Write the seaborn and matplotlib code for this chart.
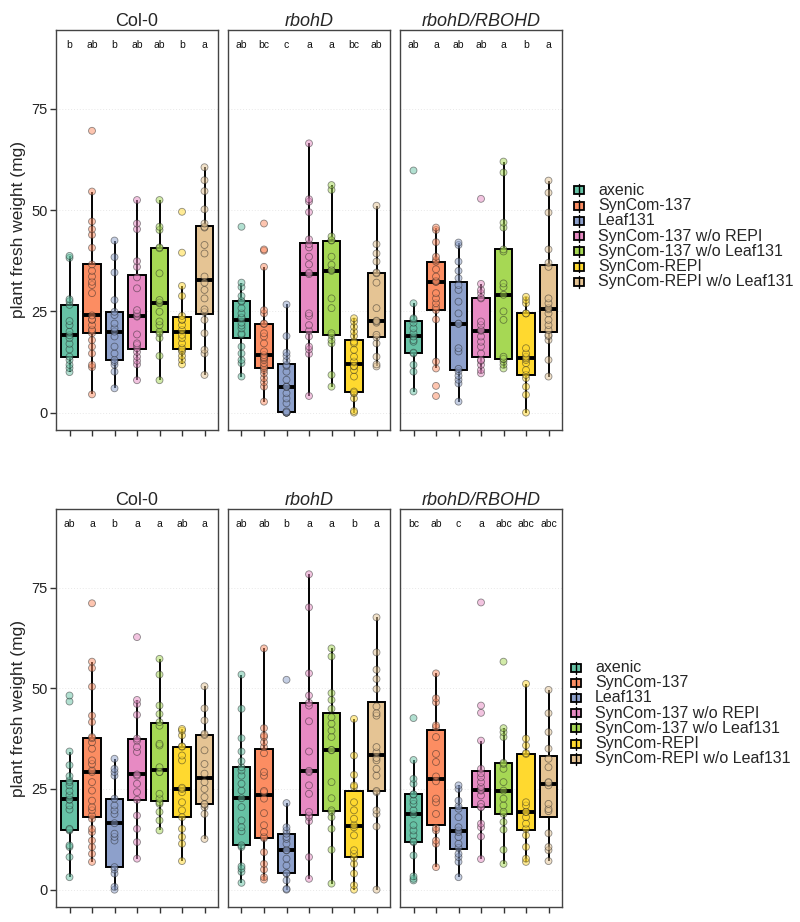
import pandas as pd
import seaborn as sns
import matplotlib.pyplot as plt
from matplotlib.patches import Rectangle
from matplotlib.lines import Line2D

groups = ["axenic", "SynCom-137", "Leaf131", "SynCom-137 w/o REPI",
          "SynCom-137 w/o Leaf131", "SynCom-REPI", "SynCom-REPI w/o Leaf131"]
genotypes = ["Col-0", "rbohD", "rbohD/RBOHD"]

# experiment 1 (top row), one list per group
top_col0 = [
    [10, 11, 11.8, 13, 13.8, 15.6, 17, 18.4, 19.1, 20, 21.6, 22.6, 26.6, 27.5, 28, 38.2, 38.7],
    [4.5, 11.2, 11.8, 14.6, 16.3, 17.9, 19.6, 20.2, 20.5, 21.6, 22.9, 23, 24, 29.5, 31.5, 32.3,
     33.6, 35, 36.6, 40.7, 43.9, 45.3, 47.2, 54.6, 69.6],
    [6, 10.1, 11.8, 12.5, 13, 14.6, 16.3, 18.8, 20, 20.8, 22, 24.1, 24.9, 27.8, 34.6, 38.4, 42.5],
    [8, 11.9, 12.8, 13.8, 15, 15.9, 16.7, 17.1, 19.3, 23.7, 23.9, 24.5, 25.3, 30.7, 33.4, 36,
     37.4, 45.3, 46.7, 52.5],
    [8, 14, 18.4, 19.6, 20, 21.6, 22.5, 24.9, 27, 27.2, 27.8, 34.4, 40.6, 40.8, 45.1, 45.9, 52.5],
    [11.9, 13, 14, 15.1, 15.5, 15.9, 17.1, 18.4, 19.2, 20.4, 21.6, 22.9, 23, 23.9, 28.8, 31.3,
     39.5, 49.6],
    [9.3, 14.6, 15.5, 19.6, 22.9, 24.8, 25.5, 28.2, 30.3, 32.1, 33.6, 39.3, 41.4, 45.7, 45.9,
     46.7, 50.2, 54.7, 57.4, 60.6],
]
top_rbohd = [
    [8.9, 12.2, 13, 14.6, 16.3, 19.2, 19.5, 20.8, 21.5, 22.2, 23.3, 23.5, 24.5, 25.8, 27.4, 27.6,
     28.8, 31, 32.1, 45.9],
    [2.7, 6.4, 7.5, 8.5, 9.7, 10.5, 11, 11.4, 12.2, 13, 13.4, 13.7, 14.2, 15.1, 17.1, 18.8, 19.6,
     21.9, 22, 24.5, 25.3, 36, 40, 40.3, 46.7],
    [0, 0, 0, 0, 0, 0.3, 2.3, 3.5, 4.8, 6.4, 6.4, 8.1, 10.1, 11.5, 11.8, 12.8, 14, 14.8, 18.9, 26.7],
    [4.1, 14.5, 15.6, 16.3, 18.8, 20.2, 21.6, 23.9, 24.5, 34.2, 34.5, 36.6, 38.5, 40.8, 41.6,
     42.8, 49.5, 52.1, 52.7, 66.5],
    [6.4, 9.3, 17.1, 17.9, 19.1, 19.6, 25.8, 28.2, 35, 35.2, 36.5, 38.5, 42.5, 42.6, 43.5, 55, 56.2],
    [0, 0.4, 3.5, 4.8, 4.9, 5.2, 8.9, 10.5, 11.4, 11.5, 12.6, 13.8, 15.5, 17.1, 17.5, 18.9, 20,
     21.2, 22.5, 23.3],
    [11.4, 11.9, 13.8, 17.1, 18.6, 19.2, 22.2, 22.5, 22.7, 25.8, 32.1, 34.4, 34.6, 37.3, 39.3,
     41.6, 51.1],
]
top_compl = [
    [5.2, 10.1, 11.8, 14.6, 14.8, 17.5, 17.9, 18.8, 19.6, 20.8, 22.2, 23, 23.3, 27, 59.8],
    [4.1, 6.6, 10.9, 12.6, 23, 25.3, 26, 27, 28.2, 29.5, 32.3, 32.3, 32.5, 33.6, 35.4, 37.3, 37.7,
     38.5, 42.1, 45.1, 45.7],
    [2.7, 7.2, 8.1, 9.1, 10.2, 10.8, 15.1, 15.9, 21.9, 22, 24.5, 27.4, 30.3, 31.5, 33.2, 35, 37.3,
     41.4, 42],
    [9.7, 10.5, 11.8, 12.8, 13, 14.6, 16.3, 17.5, 18.8, 20.2, 20.4, 21.6, 22.5, 28.2, 28.4, 29.5,
     30.3, 31.8, 52.8],
    [10.9, 11.8, 12.6, 13.2, 13.3, 13.8, 22.9, 25, 29.1, 31, 31.9, 39.8, 40.3, 45.7, 46.9, 59.3, 62],
    [0, 4.4, 6.4, 8.5, 9.3, 10.5, 12.2, 13, 13.4, 13.8, 14.6, 15.9, 24.5, 24.5, 27, 27.8, 28.6],
    [8.9, 13, 17.9, 18.9, 19.2, 20.4, 21.6, 22.9, 24.5, 25.5, 25.8, 27, 28.2, 36, 37, 40.3, 49.4,
     54.3, 57.3],
]

# experiment 2 (bottom row)
bot_col0 = [
    [3.1, 8.1, 10.6, 11, 14.7, 14.9, 15.1, 19.9, 20.9, 22.3, 22.4, 23.4, 24.5, 25.9, 26.7, 27.1,
     28.2, 30.9, 34.3, 46.7, 48.2],
    [6.9, 8.9, 10.6, 12.2, 14.3, 15.1, 17.6, 18.4, 19.7, 20.5, 22.1, 24.6, 26.7, 29.2, 29.6, 31.2,
     32.1, 35, 36.6, 37.6, 37.9, 41.6, 43.2, 50.4, 55, 56.6, 71.1],
    [0, 0.7, 4, 5, 5.6, 12.2, 13.1, 13.9, 16.5, 18.8, 19.7, 20.9, 22.6, 28.3, 29.2, 30, 32.5],
    [7.7, 11.8, 15.1, 18.4, 22.3, 24.2, 26.3, 28.3, 28.6, 34.2, 35.4, 37, 37.5, 43.4, 46.1, 47.1,
     62.7],
    [14.7, 17.2, 19.3, 21.3, 21.7, 22.6, 23.8, 29.2, 29.2, 30.4, 35.8, 36.2, 40.7, 41.6, 43.6,
     45.7, 53.4, 57.3],
    [7.1, 11.4, 13.1, 15.1, 18, 19.7, 21.7, 24.2, 25, 25.3, 32.1, 33.3, 35.5, 35.6, 38.3, 39.5, 39.9],
    [12.6, 18.8, 20.5, 21.1, 21.3, 23, 25, 26.7, 28.8, 31.2, 34.6, 38.4, 38.7, 42, 45, 50.5],
]
bot_rbohd = [
    [1.7, 4.4, 5.2, 5.8, 10.6, 11, 14.5, 15.5, 17.2, 20.5, 22.7, 24.6, 26.3, 28.3, 29.6, 30.4,
     31.9, 34.3, 37.6, 44.9, 53.4],
    [2.5, 3.1, 5, 6.4, 9.3, 12.8, 13.1, 14.3, 16, 19, 22.6, 24.2, 24.5, 28.3, 29.2, 33.9, 35.4,
     36.6, 37.9, 38.3, 40.1, 59.9],
    [0, 0.2, 2.3, 4, 4.1, 6, 7.7, 9.8, 9.8, 11.4, 12.6, 13.1, 13.9, 14.7, 15.5, 21.5, 52.1],
    [2.7, 8.1, 17, 18, 18.4, 19.3, 23.8, 25.9, 29.2, 29.5, 34.3, 41.8, 45.7, 46.4, 48.2, 53.7,
     70.1, 78.3],
    [1.5, 9.9, 15.1, 18, 19.3, 19.7, 22.7, 26.7, 34.6, 34.7, 37.9, 39.5, 41.2, 42.8, 44.9, 47.1,
     48.8, 57.9, 59.9],
    [0, 1.1, 4, 6.4, 7.9, 8.9, 9.8, 13.5, 15.5, 16, 17.6, 19.7, 21.7, 25.5, 25.9, 28.5, 33.3, 42.4],
    [0, 15.7, 18.8, 19.7, 24.2, 24.5, 28.3, 30, 32.1, 32.7, 34.1, 35.4, 43.2, 43.8, 45.5, 49.8,
     52.3, 54.6, 58.9, 67.6],
]
bot_compl = [
    [2.3, 2.7, 3.3, 8.5, 11.8, 12, 13.5, 14.7, 16, 18.7, 19.7, 21.3, 22.1, 23.6, 23.7, 26.3, 27.5,
     32.2, 42.6],
    [5.6, 11.4, 12.2, 14.7, 15.3, 18.8, 21.7, 22.6, 26.9, 28.1, 31.7, 33.7, 37.9, 40.3, 40.8,
     46.5, 47.5, 53.7],
    [3.1, 6.9, 8.1, 8.9, 10.4, 11.4, 13.1, 14.3, 14.7, 15.5, 18, 20.1, 20.7, 22.1, 25, 25.9],
    [7.6, 13.2, 15.5, 16.4, 20.5, 20.5, 21.3, 23.4, 24.6, 24.8, 25.5, 26.7, 27.9, 28.9, 30, 37,
     43.9, 45.7, 71.3],
    [6.4, 9.9, 14.9, 16.8, 18.8, 19.3, 20.9, 22.6, 24.6, 26.7, 30, 31.2, 31.5, 37.9, 39.1, 40.1, 56.6],
    [6.9, 7.7, 10.6, 13.5, 15.1, 16.4, 18, 19.3, 19.3, 20.9, 21.7, 33.7, 33.9, 35.8, 37.5, 51.1],
    [7.1, 9.8, 10.6, 14, 19.5, 20, 21.3, 25.9, 26.5, 26.7, 30.4, 32.5, 35, 39.1, 43.8, 49.6],
]

# significance letters
letters_top = [["b", "ab", "b", "ab", "ab", "b", "a"],
               ["ab", "bc", "c", "a", "a", "bc", "ab"],
               ["ab", "a", "ab", "ab", "a", "b", "a"]]
letters_bot = [["ab", "a", "b", "a", "a", "ab", "a"],
               ["ab", "ab", "b", "a", "a", "b", "a"],
               ["bc", "ab", "c", "a", "abc", "abc", "abc"]]

rows = []
for exp, panels in enumerate([[top_col0, top_rbohd, top_compl], [bot_col0, bot_rbohd, bot_compl]]):
    for geno, panel in zip(genotypes, panels):
        for grp, vals in zip(groups, panel):
            for v in vals:
                rows.append((exp, geno, grp, v))
df = pd.DataFrame(rows, columns=["exp", "genotype", "group", "weight"])

sns.set_style("white")
plt.rcParams["font.family"] = ["Liberation Sans", "DejaVu Sans"]
pal = sns.color_palette("Set2", 7)

W, H = 800, 922
fig = plt.figure(figsize=(W / 100, H / 100), dpi=100)

row_tops = [30, 509]
row_h = [400, 398]
lefts = [56, 228, 400]
pw = 162

for r in range(2):
    letters = letters_top if r == 0 else letters_bot
    for j, geno in enumerate(genotypes):
        ax = fig.add_axes([lefts[j] / W, 1 - (row_tops[r] + row_h[r]) / H, pw / W, row_h[r] / H])
        sub = df[(df.exp == r) & (df.genotype == geno)]
        sns.boxplot(data=sub, x="group", y="weight", hue="group", order=groups, hue_order=groups,
                    palette=pal, saturation=1, width=0.78, linewidth=1.4, linecolor="black",
                    showfliers=False, medianprops=dict(linewidth=2.8),
                    capprops=dict(visible=False), legend=False, ax=ax)
        sns.stripplot(data=sub, x="group", y="weight", hue="group", order=groups,
                      hue_order=groups, palette=pal, jitter=False, size=5, alpha=0.5,
                      edgecolor="#222222", linewidth=0.6, legend=False, ax=ax, zorder=3)
        for i, lt in enumerate(letters[j]):
            ax.text(i, 90.8, lt, ha="center", va="center", fontsize=7.5, color="#111111")
        ax.set_xlim(-0.6, 6.6)
        ax.set_ylim(-4.3, 94.5)
        ax.set_yticks([0, 25, 50, 75])
        ax.set_xticks(range(7))
        ax.set_xticklabels([])
        ax.set_xlabel("")
        ax.set_ylabel("")
        ax.set_axisbelow(True)
        ax.yaxis.grid(True, color="#E8E8E8", linestyle=(0, (1, 2)), linewidth=0.7)
        for s in ax.spines.values():
            s.set_color("#444444")
            s.set_linewidth(1.0)
        ax.tick_params(axis="x", length=4, width=1, color="#333333", bottom=True)
        if j == 0:
            ax.tick_params(axis="y", length=4, width=1, color="#333333", left=True,
                           labelsize=10.5, labelcolor="#222222", pad=2)
        else:
            ax.tick_params(axis="y", left=False, labelleft=False)
        ax.set_title(geno, fontsize=13, style="normal" if j == 0 else "italic", pad=2)

    fig.text(19 / W, 1 - (row_tops[r] + row_h[r] / 2) / H, "plant fresh weight (mg)",
             rotation=90, ha="center", va="center", fontsize=12.5)

# legends drawn in pixel space
ov = fig.add_axes([0, 0, 1, 1])
ov.set_xlim(0, W)
ov.set_ylim(H, 0)
ov.axis("off")
leg_first = [190.5, 667.5]
leg_x = [574, 571]
for r in range(2):
    for k, grp in enumerate(groups):
        yc = leg_first[r] + k * 15.2
        x0 = leg_x[r]
        ov.add_line(Line2D([x0 + 5, x0 + 5], [yc - 6, yc + 6], color="black", lw=1.0))
        ov.add_patch(Rectangle((x0, yc - 4), 10, 8, facecolor=pal[k], edgecolor="black", lw=1.3))
        ov.text(x0 + 24, yc, grp, ha="left", va="center", fontsize=11.5)

fig.savefig("out.png", dpi=100)
